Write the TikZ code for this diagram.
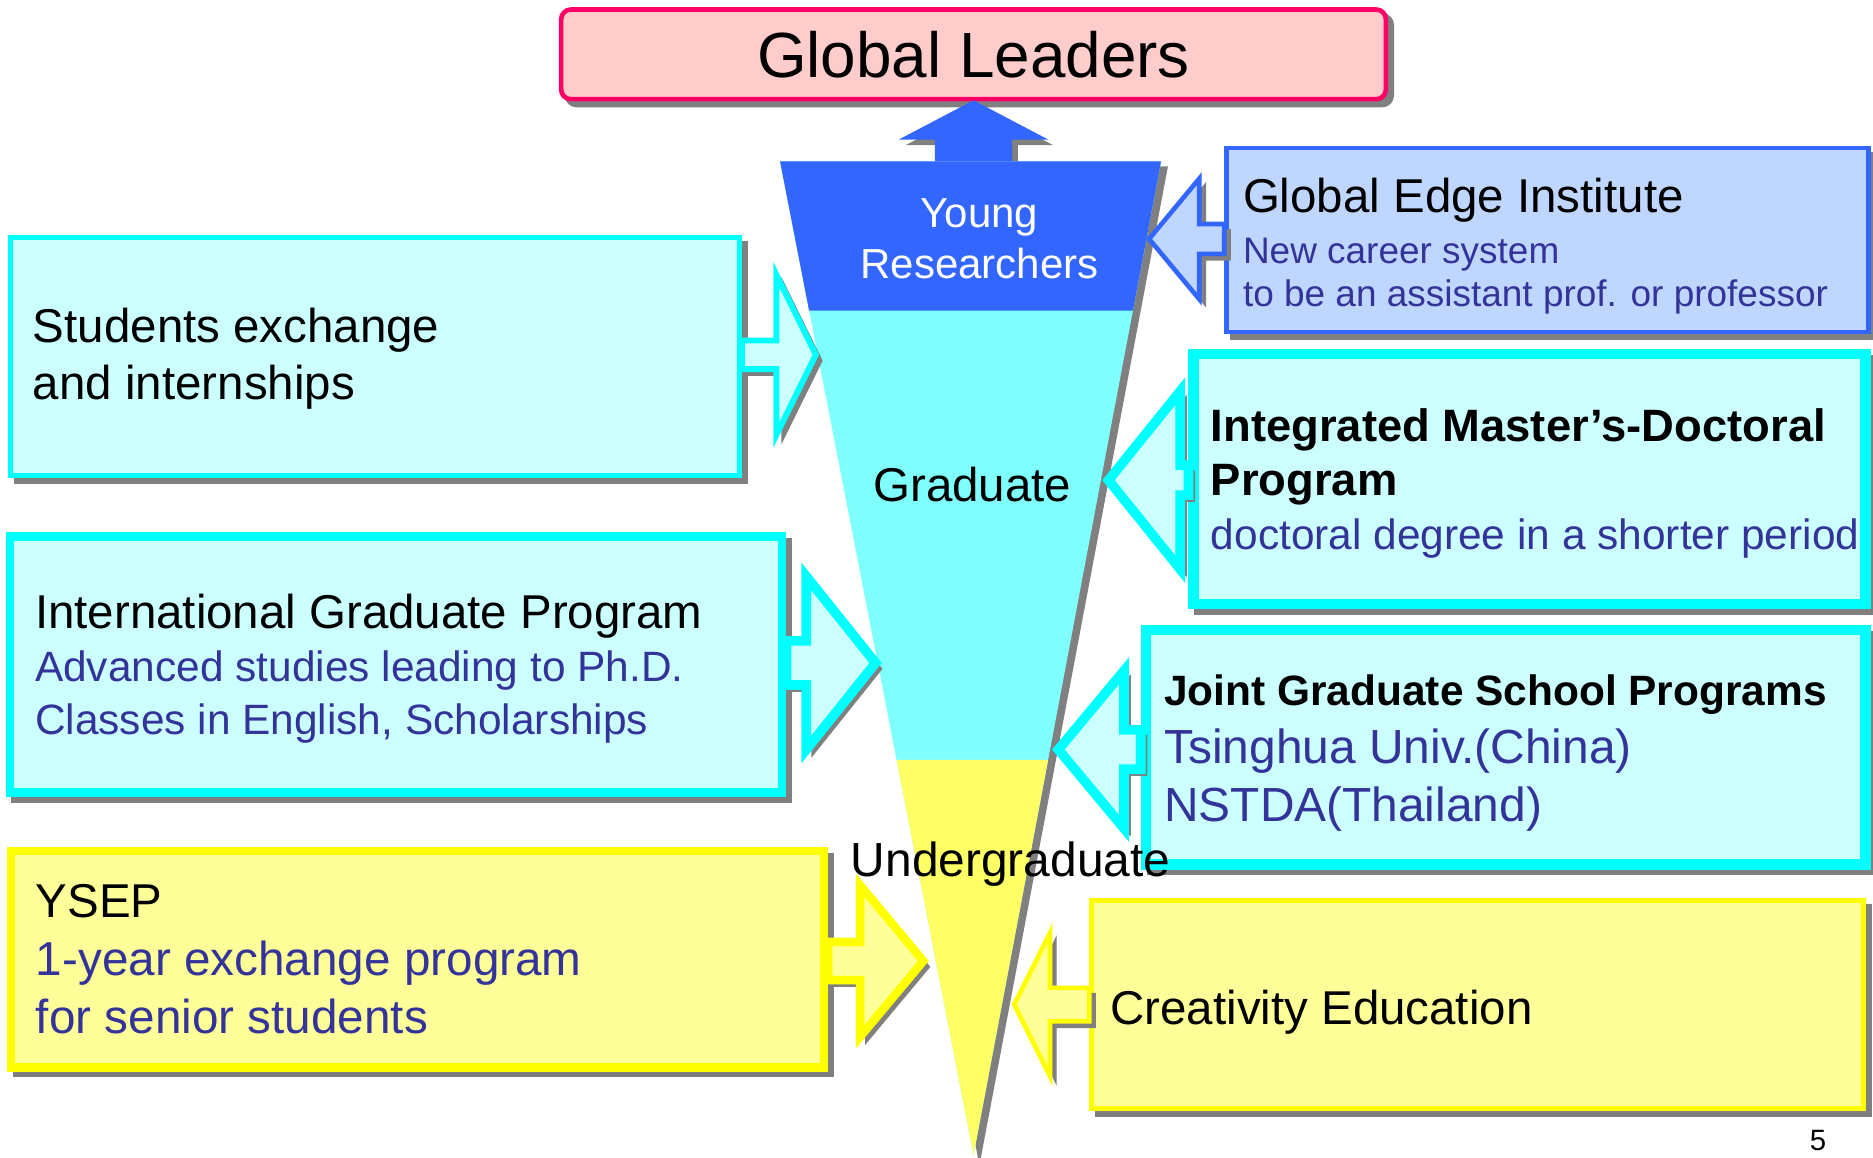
\documentclass[tikz,border=0pt]{standalone}
\usepackage{fontspec}
\setmainfont{Liberation Sans}
\usetikzlibrary{positioning,calc,shadows}

\definecolor{gpink}{HTML}{FFCCCC}
\definecolor{gred}{HTML}{FF0066}
\definecolor{fblue}{HTML}{3366FF}
\definecolor{lblue}{HTML}{BFD7FF}
\definecolor{lcyan}{HTML}{CCFFFF}
\definecolor{bcyan}{HTML}{00FFFF}
\definecolor{fcyan}{HTML}{80FFFF}
\definecolor{lyellow}{HTML}{FFFF99}
\definecolor{byellow}{HTML}{FFFF00}
\definecolor{fyellow}{HTML}{FFFF66}
\definecolor{tblue}{HTML}{333399}
\definecolor{sgray}{HTML}{808080}

\tikzstyle{shad}=[drop shadow={shadow xshift=1.4pt, shadow yshift=-1.4pt, opacity=1, fill=sgray, draw=sgray}]
\tikzstyle{glbox}=[rectangle, rounded corners=2.3pt, draw=gred, fill=gpink, line width=1.1pt,
                   inner sep=0pt, font=\fontsize{15.2}{18}\selectfont, shad]
\tikzstyle{bbox}=[rectangle, draw=fblue, fill=lblue, line width=1.1pt, inner sep=0pt, shad]
\tikzstyle{cbox}=[rectangle, draw=bcyan, fill=lcyan, line width=1.1pt, inner sep=0pt, shad]
\tikzstyle{ybox}=[rectangle, draw=byellow, fill=lyellow, line width=1.1pt, inner sep=0pt, shad]
\tikzstyle{barrow}=[draw=fblue, fill=lblue, line width=1.1pt, shad]
\tikzstyle{carrow}=[draw=bcyan, fill=lcyan, line width=1.4pt, shad]
\tikzstyle{yarrow}=[draw=byellow, fill=lyellow, line width=2pt, shad]
\tikzstyle{uparrow}=[draw=fblue, fill=fblue, line width=0.5pt, shad]
\tikzstyle{ltext}=[inner sep=0pt, align=left, anchor=west, font=\fontsize{11.3}{13.6}\selectfont]
\tikzstyle{ftext}=[inner sep=0pt, align=center, font=\fontsize{11.3}{13.6}\selectfont]

% blue sub line
\newcommand{\btxt}[2]{{\normalfont\fontsize{#1}{#1}\selectfont\color{tblue}#2}}
% block arrow: style, box anchor, tip, shaft half, head half, head length (signed)
\newcommand{\harrow}[6]{%
  \draw[#1] ($(#2 |- #3)+(0,-#4)$) -- ($(#3)+(#6,-#4)$) -- ($(#3)+(#6,-#5)$) -- (#3)
    -- ($(#3)+(#6,#5)$) -- ($(#3)+(#6,#4)$) -- ($(#2 |- #3)+(0,#4)$) -- cycle;}

\begin{document}
\begin{tikzpicture}[x=0.01cm, y=-0.01cm]
\useasboundingbox (0,0) rectangle (1568,969);

\node (GL) [glbox, minimum width=6.90cm, minimum height=0.75cm] at (815,45.5) {Global Leaders};

% funnel
\coordinate (FTL) at (653,135);
\coordinate (FTR) at (972,135);
\coordinate (FBOT) at (815,967);
\coordinate (FTOP) at ($(FTL)!0.5!(FTR)$);

\draw[uparrow] ($(GL.south |- FTOP)+(-31.5,8)$) -- ($(GL.south)+(-31.5,31)$) -- ($(GL.south)+(-59,31)$)
  -- (GL.south) -- ($(GL.south)+(59,31)$) -- ($(GL.south)+(31.5,31)$) -- ($(GL.south |- FTOP)+(31.5,8)$) -- cycle;

\path[shad, fill=fcyan] (FTL) -- (FTR) -- (FBOT) -- cycle;
\fill[fblue] (FTL) -- (FTR) -- ($(FTR)!0.1502!(FBOT)$) -- ($(FTL)!0.1502!(FBOT)$) -- cycle;
\fill[fyellow] ($(FTL)!0.6022!(FBOT)$) -- ($(FTR)!0.6022!(FBOT)$) -- (FBOT) -- cycle;

\node (YR) [ftext, text=white, font=\fontsize{10}{12.2}\selectfont] at (820,200) {Young\\Researchers};
\node (GRAD) [ftext] at (814,406) {Graduate};

% arrow tips at the funnel
\coordinate (tGEI) at (962,200);
\coordinate (tSEX) at (683,297);
\coordinate (tIMD) at (928,402);
\coordinate (tIGP) at (733,555);
\coordinate (tJGS) at (886,627.5);
\coordinate (tYSEP) at (773,804.5);
\coordinate (tCRE) at (849,841);

% right side
\node (GEI) [bbox, minimum width=5.37cm, minimum height=1.54cm] at (1295.5,201) {};
\harrow{barrow}{GEI.west}{tGEI}{12.5}{50.5}{42}
\node (GEIt) [ltext, font=\fontsize{11.3}{10.2}\selectfont, right=0.15cm of GEI.west, yshift=-1.4pt]
  {Global Edge Institute\\[2pt]\btxt{8.8}{New career system}\\\btxt{8.8}{to be an assistant prof. or professor}};

\node (IMD) [cbox, line width=2.5pt, minimum width=5.62cm, minimum height=2.09cm] at (1280.5,401) {};
\harrow{carrow, line width=2.3pt}{IMD.west}{tIMD}{12.5}{74.5}{60}
\node (IMDt) [ltext, font=\fontsize{10.8}{12.8}\selectfont\bfseries, right=0.18cm of IMD.west, yshift=-1.1pt]
  {Integrated Master’s-Doctoral\\Program\\\btxt{10.1}{doctoral degree in a shorter period}};

\node (JGS) [cbox, line width=2.5pt, minimum width=6.02cm, minimum height=1.96cm] at (1260.5,625.5) {};
\harrow{carrow, line width=2.3pt}{JGS.west}{tJGS}{16.5}{66}{55}
\node (JGSt) [ltext, font=\fontsize{10.1}{13.7}\selectfont\bfseries, right=0.19cm of JGS.west, yshift=-1.4pt]
  {Joint Graduate School Programs\\\btxt{11.4}{Tsinghua Univ.(China)}\\\btxt{11.4}{NSTDA(Thailand)}};

\node (CRE) [ybox, minimum width=6.46cm, minimum height=1.74cm] at (1237,841) {};
\harrow{yarrow, line width=1.1pt}{CRE.west}{tCRE}{14}{60}{30}
\node (CREt) [ltext, right=0.17cm of CRE.west, yshift=-1.7pt] {Creativity Education};

% left side
\node (SEX) [cbox, minimum width=6.10cm, minimum height=1.99cm] at (314,298.5) {};
\harrow{carrow}{SEX.east}{tSEX}{12}{67}{-33}
\node (SEXt) [ltext, right=0.20cm of SEX.west, yshift=-0.6pt] {Students exchange\\and internships};

\node (IGP) [cbox, line width=2.1pt, minimum width=6.46cm, minimum height=2.14cm] at (331.5,556.5) {};
\harrow{carrow, line width=2.3pt}{IGP.east}{tIGP}{18.5}{72.5}{-58}
\node (IGPt) [ltext, font=\fontsize{11.3}{12.6}\selectfont, right=0.24cm of IGP.west, yshift=-0.9pt]
  {International Graduate Program\\\btxt{10.1}{Advanced studies leading to Ph.D.}\\\btxt{10.1}{Classes in English, Scholarships}};

\node (YSEP) [ybox, line width=2pt, minimum width=6.80cm, minimum height=1.81cm] at (349.5,803) {};
\harrow{yarrow}{YSEP.east}{tYSEP}{16}{63.5}{-53}
\node (YSEPt) [ltext, font=\fontsize{11.3}{13.9}\selectfont, right=0.235cm of YSEP.west]
  {YSEP\\\btxt{11.35}{1-year exchange program}\\\btxt{11.35}{for senior students}};

\node (UGRAD) [ftext, font=\fontsize{11.4}{13.6}\selectfont] at (846,723) {Undergraduate};
\node (PG) [inner sep=0pt, font=\fontsize{7}{8}\selectfont] at (1522,955) {5};

\end{tikzpicture}
\end{document}
